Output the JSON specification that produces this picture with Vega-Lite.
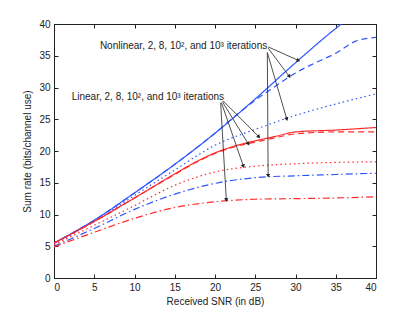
{
  "$schema": "https://vega.github.io/schema/vega-lite/v6.json",
  "width": 322,
  "height": 254,
  "autosize": {"type": "none"},
  "padding": {"left": 54, "top": 24, "right": 39, "bottom": 35},
  "background": "white",
  "config": {
    "view": {"stroke": "#222", "strokeWidth": 1},
    "axis": {"grid": false, "labelFont": "Liberation Sans", "titleFont": "Liberation Sans", "labelFontSize": 10, "titleFontSize": 10, "titleFontWeight": "normal", "labelColor": "#222", "titleColor": "#222", "domainColor": "#222", "tickColor": "#222", "tickSize": -4, "labelPadding": 8}
  },
  "datasets": {
    "curves": [
      {"scheme": "Nonlinear", "iter": "1000", "snr": 0, "rate": 5.5},
      {"scheme": "Nonlinear", "iter": "1000", "snr": 5, "rate": 9.1},
      {"scheme": "Nonlinear", "iter": "1000", "snr": 10, "rate": 13.4},
      {"scheme": "Nonlinear", "iter": "1000", "snr": 15, "rate": 17.9},
      {"scheme": "Nonlinear", "iter": "1000", "snr": 20, "rate": 22.8},
      {"scheme": "Nonlinear", "iter": "1000", "snr": 25, "rate": 28.2},
      {"scheme": "Nonlinear", "iter": "1000", "snr": 30, "rate": 33.9},
      {"scheme": "Nonlinear", "iter": "1000", "snr": 35, "rate": 39.3},
      {"scheme": "Nonlinear", "iter": "1000", "snr": 35.7, "rate": 40.0},
      {"scheme": "Nonlinear", "iter": "100", "snr": 0, "rate": 5.5},
      {"scheme": "Nonlinear", "iter": "100", "snr": 5, "rate": 9.1},
      {"scheme": "Nonlinear", "iter": "100", "snr": 10, "rate": 13.4},
      {"scheme": "Nonlinear", "iter": "100", "snr": 15, "rate": 17.9},
      {"scheme": "Nonlinear", "iter": "100", "snr": 20, "rate": 22.8},
      {"scheme": "Nonlinear", "iter": "100", "snr": 22.5, "rate": 25.5},
      {"scheme": "Nonlinear", "iter": "100", "snr": 25, "rate": 28.0},
      {"scheme": "Nonlinear", "iter": "100", "snr": 27.5, "rate": 30.2},
      {"scheme": "Nonlinear", "iter": "100", "snr": 30, "rate": 32.3},
      {"scheme": "Nonlinear", "iter": "100", "snr": 32.5, "rate": 33.9},
      {"scheme": "Nonlinear", "iter": "100", "snr": 35, "rate": 35.4},
      {"scheme": "Nonlinear", "iter": "100", "snr": 37.5, "rate": 37.3},
      {"scheme": "Nonlinear", "iter": "100", "snr": 40, "rate": 37.9},
      {"scheme": "Nonlinear", "iter": "8", "snr": 0, "rate": 5.3},
      {"scheme": "Nonlinear", "iter": "8", "snr": 5, "rate": 8.9},
      {"scheme": "Nonlinear", "iter": "8", "snr": 10, "rate": 13.0},
      {"scheme": "Nonlinear", "iter": "8", "snr": 15, "rate": 17.0},
      {"scheme": "Nonlinear", "iter": "8", "snr": 20, "rate": 20.9},
      {"scheme": "Nonlinear", "iter": "8", "snr": 25, "rate": 23.4},
      {"scheme": "Nonlinear", "iter": "8", "snr": 30, "rate": 25.6},
      {"scheme": "Nonlinear", "iter": "8", "snr": 35, "rate": 27.4},
      {"scheme": "Nonlinear", "iter": "8", "snr": 40, "rate": 29.0},
      {"scheme": "Nonlinear", "iter": "2", "snr": 0, "rate": 5.0},
      {"scheme": "Nonlinear", "iter": "2", "snr": 5, "rate": 7.8},
      {"scheme": "Nonlinear", "iter": "2", "snr": 10, "rate": 10.8},
      {"scheme": "Nonlinear", "iter": "2", "snr": 15, "rate": 13.2},
      {"scheme": "Nonlinear", "iter": "2", "snr": 20, "rate": 14.9},
      {"scheme": "Nonlinear", "iter": "2", "snr": 25, "rate": 15.8},
      {"scheme": "Nonlinear", "iter": "2", "snr": 30, "rate": 16.1},
      {"scheme": "Nonlinear", "iter": "2", "snr": 35, "rate": 16.3},
      {"scheme": "Nonlinear", "iter": "2", "snr": 40, "rate": 16.5},
      {"scheme": "Linear", "iter": "1000", "snr": 0, "rate": 5.5},
      {"scheme": "Linear", "iter": "1000", "snr": 5, "rate": 8.9},
      {"scheme": "Linear", "iter": "1000", "snr": 10, "rate": 12.6},
      {"scheme": "Linear", "iter": "1000", "snr": 15, "rate": 16.4},
      {"scheme": "Linear", "iter": "1000", "snr": 17.5, "rate": 18.2},
      {"scheme": "Linear", "iter": "1000", "snr": 20, "rate": 19.7},
      {"scheme": "Linear", "iter": "1000", "snr": 22.5, "rate": 20.8},
      {"scheme": "Linear", "iter": "1000", "snr": 25, "rate": 21.6},
      {"scheme": "Linear", "iter": "1000", "snr": 27.5, "rate": 22.3},
      {"scheme": "Linear", "iter": "1000", "snr": 30, "rate": 23.0},
      {"scheme": "Linear", "iter": "1000", "snr": 35, "rate": 23.3},
      {"scheme": "Linear", "iter": "1000", "snr": 40, "rate": 23.7},
      {"scheme": "Linear", "iter": "100", "snr": 0, "rate": 5.5},
      {"scheme": "Linear", "iter": "100", "snr": 5, "rate": 8.9},
      {"scheme": "Linear", "iter": "100", "snr": 10, "rate": 12.6},
      {"scheme": "Linear", "iter": "100", "snr": 15, "rate": 16.3},
      {"scheme": "Linear", "iter": "100", "snr": 17.5, "rate": 18.1},
      {"scheme": "Linear", "iter": "100", "snr": 20, "rate": 19.6},
      {"scheme": "Linear", "iter": "100", "snr": 22.5, "rate": 20.7},
      {"scheme": "Linear", "iter": "100", "snr": 25, "rate": 21.4},
      {"scheme": "Linear", "iter": "100", "snr": 27.5, "rate": 22.1},
      {"scheme": "Linear", "iter": "100", "snr": 30, "rate": 22.7},
      {"scheme": "Linear", "iter": "100", "snr": 35, "rate": 23.0},
      {"scheme": "Linear", "iter": "100", "snr": 40, "rate": 23.0},
      {"scheme": "Linear", "iter": "8", "snr": 0, "rate": 5.2},
      {"scheme": "Linear", "iter": "8", "snr": 5, "rate": 8.3},
      {"scheme": "Linear", "iter": "8", "snr": 10, "rate": 11.4},
      {"scheme": "Linear", "iter": "8", "snr": 15, "rate": 14.6},
      {"scheme": "Linear", "iter": "8", "snr": 20, "rate": 16.7},
      {"scheme": "Linear", "iter": "8", "snr": 25, "rate": 17.6},
      {"scheme": "Linear", "iter": "8", "snr": 30, "rate": 18.0},
      {"scheme": "Linear", "iter": "8", "snr": 35, "rate": 18.2},
      {"scheme": "Linear", "iter": "8", "snr": 40, "rate": 18.3},
      {"scheme": "Linear", "iter": "2", "snr": 0, "rate": 4.9},
      {"scheme": "Linear", "iter": "2", "snr": 5, "rate": 7.2},
      {"scheme": "Linear", "iter": "2", "snr": 10, "rate": 9.4},
      {"scheme": "Linear", "iter": "2", "snr": 15, "rate": 11.1},
      {"scheme": "Linear", "iter": "2", "snr": 20, "rate": 12.0},
      {"scheme": "Linear", "iter": "2", "snr": 25, "rate": 12.4},
      {"scheme": "Linear", "iter": "2", "snr": 30, "rate": 12.5},
      {"scheme": "Linear", "iter": "2", "snr": 35, "rate": 12.6},
      {"scheme": "Linear", "iter": "2", "snr": 40, "rate": 12.8}
    ],
    "arrows": [
      {"x1": 26.6, "y1": 36.4, "x2": 30.3, "y2": 34.3},
      {"x1": 26.6, "y1": 36.2, "x2": 29.2, "y2": 31.8},
      {"x1": 26.5, "y1": 35.5, "x2": 28.9, "y2": 25.1},
      {"x1": 26.5, "y1": 35.5, "x2": 26.6, "y2": 16.2},
      {"x1": 21.0, "y1": 27.9, "x2": 25.4, "y2": 22.3},
      {"x1": 20.9, "y1": 27.8, "x2": 24.1, "y2": 21.2},
      {"x1": 20.8, "y1": 27.6, "x2": 23.5, "y2": 17.7},
      {"x1": 20.7, "y1": 27.6, "x2": 21.4, "y2": 12.4}
    ],
    "labels": [
      {"x": 5.7, "y": 36.5, "label": "Nonlinear, 2, 8, 10², and 10³ iterations"},
      {"x": 2.2, "y": 28.45, "label": "Linear, 2, 8, 10², and 10³ iterations"}
    ]
  },
  "resolve": {"axis": {"x": "independent", "y": "independent"}},
  "layer": [
    {
      "data": {"name": "curves"},
      "mark": {"type": "line", "strokeWidth": 1.2, "clip": true, "interpolate": "monotone"},
      "encoding": {
        "x": {"field": "snr", "type": "quantitative", "scale": {"domain": [0, 40], "nice": false}, "axis": {"title": "Received SNR (in dB)", "values": [0, 5, 10, 15, 20, 25, 30, 35, 40], "titlePadding": 4}},
        "y": {"field": "rate", "type": "quantitative", "scale": {"domain": [0, 40], "nice": false}, "axis": {"title": "Sum rate (bits/channel use)", "values": [0, 5, 10, 15, 20, 25, 30, 35, 40], "titlePadding": 6}},
        "color": {"field": "scheme", "type": "nominal", "scale": {"domain": ["Nonlinear", "Linear"], "range": ["#2f55ff", "#ff2a2a"]}, "legend": null},
        "strokeDash": {"field": "iter", "type": "nominal", "scale": {"domain": ["1000", "100", "8", "2"], "range": [[1, 0], [6, 4], [1.5, 3], [7, 3, 1.5, 3]]}, "legend": null},
        "order": {"field": "snr", "type": "quantitative"}
      }
    },
    {
      "data": {"name": "curves"},
      "mark": {"type": "point", "opacity": 0},
      "encoding": {
        "x": {"field": "snr", "type": "quantitative", "axis": {"orient": "top", "labels": false, "title": null, "values": [0, 5, 10, 15, 20, 25, 30, 35, 40]}},
        "y": {"field": "rate", "type": "quantitative", "axis": {"orient": "right", "labels": false, "title": null, "values": [0, 5, 10, 15, 20, 25, 30, 35, 40]}}
      }
    },
    {
      "data": {"name": "arrows"},
      "mark": {"type": "rule", "color": "#222", "strokeWidth": 0.8},
      "encoding": {
        "x": {"field": "x1", "type": "quantitative", "axis": null},
        "y": {"field": "y1", "type": "quantitative", "axis": null},
        "x2": {"field": "x2"},
        "y2": {"field": "y2"}
      }
    },
    {
      "data": {"name": "arrows"},
      "transform": [{"calculate": "atan2((datum.x2 - datum.x1) * 8.05, (datum.y2 - datum.y1) * 6.35) * 180 / PI", "as": "ang"}],
      "mark": {"type": "point", "shape": "triangle", "filled": true, "color": "#222", "size": 18, "opacity": 1},
      "encoding": {
        "x": {"field": "x2", "type": "quantitative", "axis": null},
        "y": {"field": "y2", "type": "quantitative", "axis": null},
        "angle": {"field": "ang", "type": "quantitative", "scale": null}
      }
    },
    {
      "data": {"name": "labels"},
      "mark": {"type": "text", "align": "left", "baseline": "middle", "font": "Liberation Sans", "fontSize": 10, "color": "#222"},
      "encoding": {
        "x": {"field": "x", "type": "quantitative", "axis": null},
        "y": {"field": "y", "type": "quantitative", "axis": null},
        "text": {"field": "label"}
      }
    }
  ]
}
